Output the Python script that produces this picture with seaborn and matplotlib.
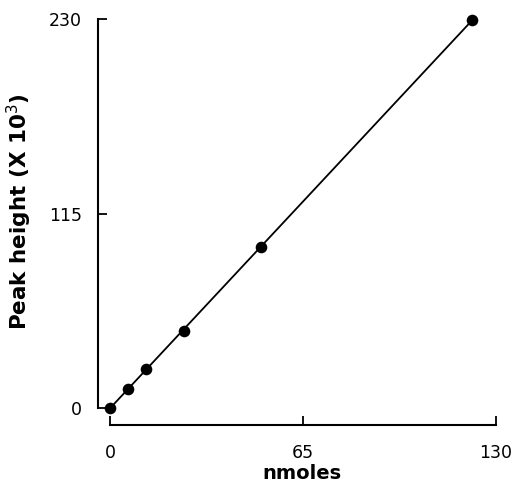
import matplotlib
matplotlib.use("Agg")
import matplotlib.pyplot as plt
import seaborn as sns
import pandas as pd

# data
nmoles = [0, 6.1, 12.0, 25.0, 50.7, 122.0]
peak_height = [0, 11.3, 23.3, 45.5, 95.5, 229.7]
x_ticks = [0, 65, 130]
y_ticks = [0, 115, 230]

df = pd.DataFrame({"nmoles": nmoles, "peak": peak_height})

sns.set_theme(style="ticks")
plt.rcParams["font.family"] = ["DejaVu Sans"]

fig = plt.figure(figsize=(5.14, 4.91), dpi=100)
ax = fig.add_axes([98.3 / 514, (491 - 425) / 491, (496 - 98.3) / 514, (425 - 19.5) / 491])

sns.regplot(data=df, x="nmoles", y="peak", ax=ax, ci=None, color="black",
            scatter_kws={"s": 70, "clip_on": False, "zorder": 3, "linewidths": 0, "alpha": 1},
            line_kws={"lw": 1.3, "clip_on": False})

ax.set_xlim(-3.94, 130)
ax.set_ylim(-10.07, 230)
ax.set_xticks(x_ticks)
ax.set_yticks(y_ticks)
ax.set_xticklabels([str(v) for v in x_ticks])
ax.set_yticklabels([str(v) for v in y_ticks])

for s in ["top", "right"]:
    ax.spines[s].set_visible(False)
for s in ["left", "bottom"]:
    ax.spines[s].set_linewidth(1.5)
    ax.spines[s].set_color("black")
ax.spines["left"].set_bounds(0, 230)
ax.spines["bottom"].set_bounds(0, 130)

ax.tick_params(axis="both", direction="in", length=6.5, width=1.3, colors="black",
               labelsize=12.5)
ax.tick_params(axis="y", pad=12)
ax.tick_params(axis="x", pad=14)

ax.set_xlabel("nmoles", fontsize=14, fontweight="bold", color="black")
ax.set_ylabel("Peak height (X 10$^{3}$)", fontsize=15.5, fontweight="bold", color="black")
ax.xaxis.set_label_coords((302 - 98.3) / 397.7, (425 - 464) / 405.5)
ax.yaxis.set_label_coords((34 - 98.3) / 397.7, (425 - 212) / 405.5)

ax.grid(False)
fig.savefig("out.png", dpi=100)
